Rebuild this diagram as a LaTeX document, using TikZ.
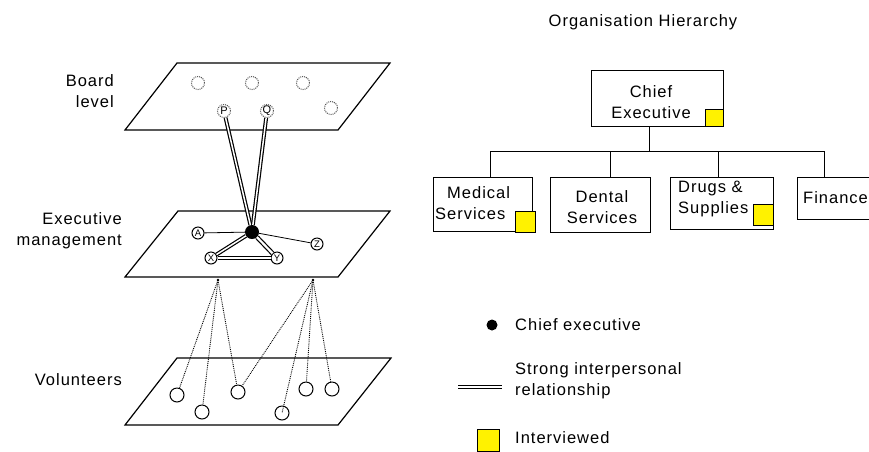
\documentclass[tikz,border=0pt]{standalone}
\usepackage{fontspec}
\setmainfont[LetterSpace=6]{Liberation Sans}
\begin{document}
\begin{tikzpicture}[x=1pt,y=-1pt,
  txt/.style={font=\fontsize{16.5}{21}\selectfont, inner sep=0pt},
  plane/.style={draw=black, line width=1.2pt},
  bcirc/.style={circle, draw=black!65, densely dotted, line width=1pt, minimum size=13pt, inner sep=0pt, font=\fontsize{11}{11}\selectfont},
  ecirc/.style={circle, draw=black, line width=1pt, minimum size=12pt, inner sep=0pt, font=\fontsize{9.5}{9.5}\selectfont},
  vcirc/.style={circle, draw=black, line width=1pt, minimum size=14pt, inner sep=0pt},
  strong/.style={draw=black, double=white, double distance=1.5pt, line width=1.2pt},
  thin/.style={draw=black, line width=0.8pt},
  dots/.style={draw=black, densely dotted, line width=0.9pt},
  orgbox/.style={draw=black, line width=1pt, inner sep=0pt},
  yel/.style={draw=black, fill=yellow, line width=1pt, inner sep=0pt},
  tree/.style={draw=black, line width=1pt}]
\useasboundingbox (0,0) rectangle (869,451);
\fill[white] (0,0) rectangle (869,451);

% ---- planes ----
\draw[plane] (177,63) -- (390,63) -- (338,130) -- (125,130) -- cycle;
\draw[plane] (178,211) -- (390,211) -- (338,277) -- (125,277) -- cycle;
\draw[plane] (177,358) -- (391,358) -- (338,425) -- (125,425) -- cycle;

% ---- left labels ----
\node[txt, align=right, anchor=east] (lb) at (114,91) {Board\\level};
\node[txt, align=right, anchor=east] (le) at (122,231) {Executive\\management};
\node[txt, anchor=east] (lv) at (122,380) {Volunteers};

% ---- board level ----
\node[bcirc] (b1) at (198,83) {};
\node[bcirc] (b2) at (252,83) {};
\node[bcirc] (b3) at (303,83) {};
\node[bcirc] (b4) at (331,108) {};
\node[bcirc] (P) at (224,111) {P};
\node[bcirc] (Q) at (267,111) {Q};

% ---- executive ----
\node[circle, fill=black, minimum size=14pt, inner sep=0pt] (ce) at (252,232) {};
\node[ecirc] (A) at (198,233) {A};
\node[ecirc] (Z) at (317,244) {Z};
\node[ecirc] (X) at (211,258) {X};
\node[ecirc] (Y) at (277,258) {Y};
\draw[strong] (P) -- (ce);
\draw[strong] (Q) -- (ce);
\draw[thin] (A) -- (ce);
\draw[thin] (ce) -- (Z);
\draw[strong] (ce) -- (X);
\draw[strong, double distance=2.2pt] (ce) -- (Y);
\draw[strong] (X) -- (Y);

% ---- volunteers ----
\coordinate (s1) at (218,280);
\coordinate (s2) at (313,280);
\fill (s1) circle (1.3pt);
\fill (s2) circle (1.3pt);
\node[vcirc] (v1) at (177,395) {};
\node[vcirc] (v2) at (202,412) {};
\node[vcirc] (v3) at (238,392) {};
\node[vcirc] (v4) at (282,413) {};
\node[vcirc] (v5) at (306,389) {};
\node[vcirc] (v6) at (332,389) {};
\draw[dots] (s1) -- (v1);
\draw[dots] (s1) -- (v2);
\draw[dots] (s1) -- (v3);
\draw[dots] (s2) -- (v3);
\draw[dots] (s2) -- (v4.center);
\draw[dots] (s2) -- (v5);
\draw[dots] (s2) -- (v6);

% ---- organisation hierarchy ----
\node[txt] (title) at (643,22) {Organisation Hierarchy};
\node[orgbox, minimum width=132pt, minimum height=56pt] (chief) at (657,98) {};
\node[txt, align=center] (chieft) at (651,102) {Chief\\Executive};
\node[yel, minimum width=18pt, minimum height=17pt] (ychief) at (714,117.5) {};

\node[orgbox, minimum width=99pt, minimum height=54pt] (med) at (482.5,204) {};
\node[txt, align=left, anchor=north west] (medt) at (435,186) {\hspace*{12pt}Medical\\Services};
\node[yel, minimum width=20pt, minimum height=21pt] (ymed) at (525,221.5) {};

\node[orgbox, minimum width=100pt, minimum height=55pt] (den) at (600,204.5) {};
\node[txt, align=center] (dent) at (602,207) {Dental\\Services};

\node[orgbox, minimum width=103pt, minimum height=52pt] (drg) at (721.5,203) {};
\node[txt, align=left, anchor=north west] (drgt) at (678,181) {Drugs \&\\Supplies};
\node[yel, minimum width=20pt, minimum height=21pt] (ydrg) at (763,214.5) {};

\node[orgbox, minimum width=90pt, minimum height=42pt] (fin) at (842,198) {};
\node[txt, anchor=west] (fint) at (803,198) {Finance};

\coordinate (bus) at (649,151);
\draw[tree] (chief.south -| bus) -- (bus);
\draw[tree] (490,151) -- (824,151);
\draw[tree] (490,151) -- (med.north -| 490,0);
\draw[tree] (610,151) -- (den.north -| 610,0);
\draw[tree] (718,151) -- (drg.north -| 718,0);
\draw[tree] (824,151) -- (fin.north -| 824,0);

% ---- legend ----
\node[circle, fill=black, minimum size=11pt, inner sep=0pt] (lgdot) at (492,325) {};
\node[txt, anchor=west] (lgdott) at (515,325) {Chief executive};
\coordinate (lgs1) at (458,387);
\coordinate (lgs2) at (502,387);
\draw[strong, double distance=2.4pt] (lgs1) -- (lgs2);
\node[txt, align=left, anchor=west] (lgst) at (515,381) {Strong interpersonal\\relationship};
\node[yel, minimum width=22pt, minimum height=22pt] (lgy) at (488.5,440) {};
\node[txt, anchor=west] (lgyt) at (515,438) {Interviewed};
\end{tikzpicture}
\end{document}
